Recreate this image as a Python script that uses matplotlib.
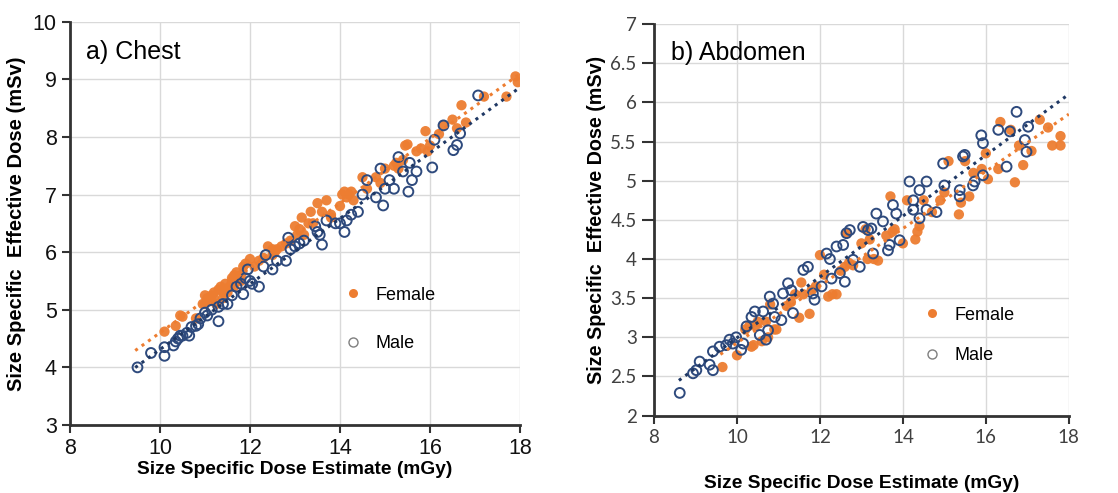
import numpy as np
import matplotlib.pyplot as plt
from matplotlib.lines import Line2D

# Chest: SSDE (mGy) vs size specific effective dose (mSv)
chest_f_x = [10.1, 10.35, 10.45, 10.5, 10.8, 10.95, 11.0, 11.0, 11.05, 11.1, 11.15, 11.2, 11.2,
             11.25, 11.3, 11.35, 11.4, 11.4, 11.45, 11.5, 11.55, 11.6, 11.6, 11.65, 11.65, 11.7,
             11.7, 11.75, 11.8, 11.8, 11.85, 11.9, 12.0, 12.1, 12.2, 12.3, 12.4, 12.5, 12.5, 12.55,
             12.6, 12.7, 12.8, 12.9, 13.0, 13.05, 13.1, 13.15, 13.2, 13.3, 13.35, 13.4, 13.5, 13.6,
             13.7, 13.8, 13.8, 14.0, 14.05, 14.1, 14.15, 14.2, 14.25, 14.3, 14.5, 14.6, 14.8, 14.9,
             15.0, 15.2, 15.25, 15.3, 15.4, 15.45, 15.5, 15.7, 15.8, 15.9, 15.95, 16.0, 16.2, 16.3,
             16.5, 16.6, 16.7, 16.8, 17.2, 17.7, 17.9, 17.95]
chest_f_y = [4.62, 4.72, 4.9, 4.88, 4.85, 5.1, 5.25, 5.1, 5.2, 5.15, 5.25, 5.3, 5.2,
             5.1, 5.35, 5.4, 5.3, 5.2, 5.45, 5.3, 5.4, 5.55, 5.5, 5.6, 5.4, 5.65,
             5.55, 5.5, 5.6, 5.5, 5.75, 5.8, 5.88, 5.75, 5.85, 5.9, 6.1, 6.05, 5.95, 6.0,
             6.05, 6.1, 6.15, 6.2, 6.45, 6.3, 6.4, 6.6, 6.3, 6.5, 6.7, 6.5, 6.85, 6.7,
             6.9, 6.65, 6.6, 6.8, 7.0, 7.05, 6.95, 7.0, 7.05, 6.9, 7.3, 7.1, 7.3, 7.2,
             7.45, 7.5, 7.55, 7.45, 7.6, 7.85, 7.87, 7.75, 7.8, 8.1, 7.75, 7.85, 8.05, 8.2,
             8.3, 8.15, 8.55, 8.25, 8.7, 8.7, 9.05, 8.95]
chest_m_x = [9.5, 9.8, 10.1, 10.1, 10.3, 10.35, 10.4, 10.45, 10.5, 10.6, 10.65, 10.7, 10.8,
             10.85, 10.9, 11.0, 11.05, 11.15, 11.3, 11.3, 11.4, 11.5, 11.6, 11.7, 11.8, 11.85,
             11.9, 11.95, 12.0, 12.05, 12.2, 12.3, 12.35, 12.5, 12.6, 12.8, 12.85, 12.9, 13.0,
             13.1, 13.2, 13.45, 13.5, 13.55, 13.6, 13.7, 13.9, 14.0, 14.1, 14.15, 14.25, 14.4,
             14.5, 14.6, 14.8, 14.9, 15.0, 14.96, 15.1, 15.2, 15.3, 15.4, 15.52, 15.55, 15.6,
             15.7, 16.1, 16.05, 16.3, 16.52, 16.6, 16.67, 17.07]
chest_m_y = [4.0, 4.25, 4.2, 4.35, 4.38, 4.45, 4.5, 4.55, 4.55, 4.6, 4.55, 4.7, 4.72,
             4.75, 4.85, 4.95, 4.9, 5.0, 4.8, 5.05, 5.1, 5.1, 5.25, 5.4, 5.45, 5.27,
             5.55, 5.7, 5.5, 5.45, 5.4, 5.75, 5.95, 5.7, 5.85, 5.85, 6.25, 6.05, 6.1,
             6.15, 6.2, 6.45, 6.35, 6.3, 6.13, 6.55, 6.5, 6.5, 6.35, 6.55, 6.65, 6.7,
             7.0, 7.25, 6.95, 7.45, 7.1, 6.81, 7.25, 7.1, 7.65, 7.4, 7.05, 7.55, 7.25,
             7.4, 7.95, 7.47, 8.2, 7.77, 7.86, 8.06, 8.72]

# Abdomen
abd_f_x = [9.65, 10.0, 10.2, 10.3, 10.35, 10.4, 10.45, 10.5, 10.6, 10.7, 10.75, 10.8, 10.9,
           10.95, 11.2, 11.3, 11.4, 11.5, 11.55, 11.6, 11.75, 11.8, 11.9, 12.0, 12.1, 12.2,
           12.3, 12.4, 12.5, 12.6, 12.65, 12.7, 12.8, 13.0, 13.1, 13.15, 13.2, 13.3, 13.4,
           13.6, 13.7, 13.75, 13.8, 14.0, 14.1, 14.3, 14.35, 14.4, 14.5, 14.7, 14.9, 15.0,
           15.1, 15.35, 15.4, 15.5, 15.6, 15.7, 15.9, 16.0, 16.05, 16.3, 16.35, 16.6, 16.7,
           16.8, 16.9, 17.1, 17.3, 17.5, 17.6, 17.8, 17.8]
abd_f_y = [2.62, 2.77, 3.1, 3.15, 2.88, 2.9, 3.15, 3.2, 2.95, 3.2, 3.0, 3.42, 3.1,
           3.1, 3.4, 3.45, 3.55, 3.25, 3.7, 3.55, 3.3, 3.6, 3.65, 4.05, 3.8, 3.52,
           3.55, 3.55, 3.85, 3.9, 4.33, 3.95, 3.92, 4.2, 4.38, 4.0, 4.25, 4.0, 3.98,
           4.3, 4.8, 4.35, 4.38, 4.2, 4.75, 4.25, 4.35, 4.42, 4.75, 4.6, 4.75, 4.85,
           5.25, 4.57, 4.72, 5.25, 4.8, 5.1, 5.15, 5.35, 5.02, 5.15, 5.75, 5.65, 4.98,
           5.45, 5.2, 5.38, 5.78, 5.68, 5.45, 5.45, 5.57]
abd_m_x = [8.62, 8.94, 9.02, 9.1, 9.34, 9.42, 9.42, 9.58, 9.74, 9.82, 9.98, 9.9, 10.1,
           10.15, 10.23, 10.35, 10.43, 10.55, 10.63, 10.7, 10.75, 10.79, 10.87, 10.91, 11.07,
           11.11, 11.23, 11.31, 11.35, 11.6, 11.71, 11.83, 11.87, 12.04, 12.16, 12.24, 12.28,
           12.4, 12.48, 12.56, 12.6, 12.64, 12.72, 12.8, 12.96, 13.04, 13.16, 13.24, 13.28,
           13.36, 13.52, 13.64, 13.68, 13.76, 13.84, 13.92, 14.16, 14.25, 14.25, 14.4, 14.4,
           14.57, 14.57, 14.81, 14.97, 15.0, 15.37, 15.37, 15.45, 15.49, 15.69, 15.73, 15.89,
           15.93, 15.93, 16.3, 16.5, 16.58, 16.74, 16.94, 16.98, 17.02]
abd_m_y = [2.29, 2.54, 2.58, 2.69, 2.65, 2.58, 2.82, 2.88, 2.9, 2.97, 3.0, 2.92, 2.84,
           2.92, 3.14, 3.26, 3.33, 3.03, 3.33, 2.97, 3.09, 3.52, 3.43, 3.26, 3.22,
           3.56, 3.69, 3.6, 3.31, 3.86, 3.9, 3.56, 3.48, 3.65, 4.07, 4.0, 3.75,
           4.16, 3.82, 4.18, 3.71, 4.33, 4.37, 3.99, 3.9, 4.41, 4.37, 4.39, 4.07,
           4.58, 4.48, 4.11, 4.18, 4.69, 4.58, 4.24, 4.99, 4.75, 4.63, 4.88, 4.52,
           4.99, 4.63, 4.6, 5.22, 4.94, 4.88, 4.8, 5.31, 5.33, 4.94, 4.99, 5.58,
           5.48, 5.07, 5.65, 5.18, 5.63, 5.88, 5.52, 5.37, 5.69]

ORANGE = '#ED7D31'
NAVY = '#2E4A7D'
LINE_NAVY = '#1F3864'


def trend(ax, x, y, x0, x1, color):
    # linear least-squares trendline, dotted like Excel's
    k, b = np.polyfit(x, y, 1)
    xs = np.array([x0, x1])
    ax.plot(xs, k * xs + b, linestyle=(0, (1, 1.6)), color=color, linewidth=2.2, zorder=3)


def panel(ax, fx, fy, mx, my, tick_font, tick_size, tick_color):
    ax.grid(True, color='#D9D9D9', linewidth=1)
    ax.set_axisbelow(True)
    for s in ['top', 'right']:
        ax.spines[s].set_visible(False)
    for s in ['left', 'bottom']:
        ax.spines[s].set_color('#333333')
        ax.spines[s].set_linewidth(2)
    ax.tick_params(direction='out', length=6, width=1.5, color='#333333',
                   labelsize=tick_size, labelcolor=tick_color)
    for lab in ax.get_xticklabels() + ax.get_yticklabels():
        lab.set_family(tick_font)
    ax.scatter(fx, fy, s=55, color=ORANGE, edgecolors='none', zorder=2, alpha=0.95)
    ax.scatter(mx, my, s=50, facecolors='none', edgecolors=NAVY, linewidths=1.4, zorder=2)
    handles = [Line2D([], [], linestyle='none', marker='o', markersize=6.5, color=ORANGE,
                      markeredgecolor='none'),
               Line2D([], [], linestyle='none', marker='o', markersize=6.5,
                      markerfacecolor='none', markeredgecolor='#7F7F7F')]
    return handles


plt.rcParams['font.family'] = ['Liberation Sans', 'DejaVu Sans']
fig = plt.figure(figsize=(11.18, 4.93), dpi=100)

# a) Chest
ax1 = fig.add_axes([0.0626, 0.138, 0.4025, 0.818])
ax1.set_xlim(8, 18)
ax1.set_ylim(3, 10)
ax1.set_xticks(range(8, 19, 2))
ax1.set_yticks(range(3, 11))
h = panel(ax1, chest_f_x, chest_f_y, chest_m_x, chest_m_y, 'Liberation Sans', 15.5, '#111111')
trend(ax1, chest_f_x, chest_f_y, 9.45, 18, ORANGE)
trend(ax1, chest_m_x, chest_m_y, 9.45, 18, LINE_NAVY)
ax1.text(0.036, 0.925, 'a) Chest', transform=ax1.transAxes, fontsize=18, va='center')
ax1.set_xlabel('Size Specific Dose Estimate (mGy)', fontsize=13.8, fontweight='bold', labelpad=1)
ax1.set_ylabel('Size Specific  Effective Dose (mSv)', fontsize=14.5, fontweight='bold', labelpad=5)
ax1.legend(h, ['Female', 'Male'], loc='upper left', bbox_to_anchor=(0.572, 0.383),
           frameon=False, fontsize=13, labelspacing=1.75, handlelength=1.0, handletextpad=0.75)

# b) Abdomen
ax2 = fig.add_axes([0.585, 0.157, 0.371, 0.794])
ax2.set_xlim(8, 18)
ax2.set_ylim(2, 7)
ax2.set_xticks(range(8, 19, 2))
ax2.set_yticks(np.arange(2, 7.01, 0.5))
ax2.set_yticklabels(['2', '2.5', '3', '3.5', '4', '4.5', '5', '5.5', '6', '6.5', '7'])
h = panel(ax2, abd_f_x, abd_f_y, abd_m_x, abd_m_y, 'Lato', 13.5, '#404040')
ax2.tick_params(axis='y', length=9)
trend(ax2, abd_f_x, abd_f_y, 9.6, 18, ORANGE)
trend(ax2, abd_m_x, abd_m_y, 8.6, 18, LINE_NAVY)
ax2.text(0.04, 0.926, 'b) Abdomen', transform=ax2.transAxes, fontsize=18, va='center')
ax2.set_xlabel('Size Specific Dose Estimate (mGy)', fontsize=13.8, fontweight='bold', labelpad=21)
ax2.set_ylabel('Size Specific  Effective Dose (mSv)', fontsize=14.2, fontweight='bold', labelpad=3)
ax2.legend(h, ['Female', 'Male'], loc='upper left', bbox_to_anchor=(0.609, 0.32),
           frameon=False, fontsize=13, labelspacing=1.3, handlelength=1.0, handletextpad=0.75)

fig.savefig('out.png', dpi=100)
